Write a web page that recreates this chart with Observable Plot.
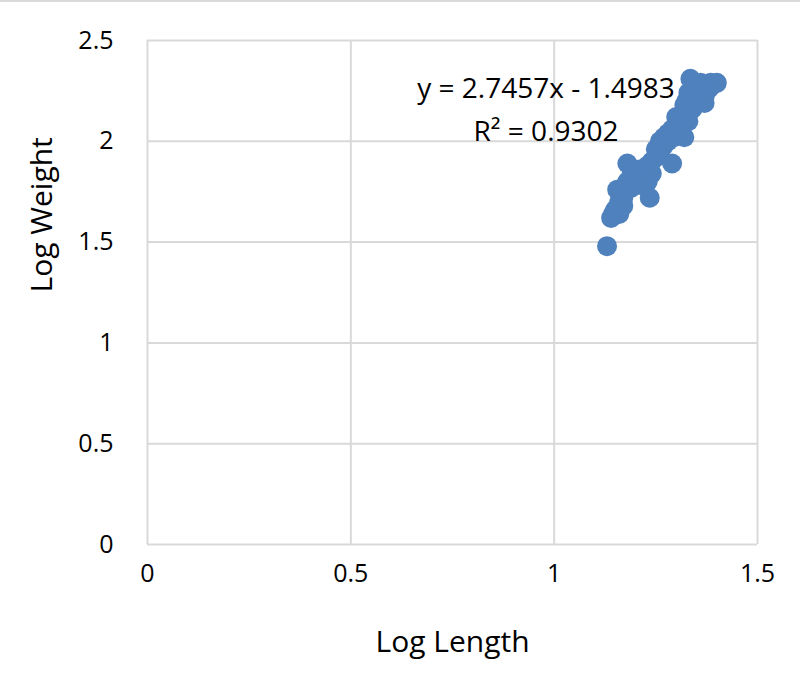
<!DOCTYPE html>
<html><head><meta charset="utf-8">
<script src="https://cdn.jsdelivr.net/npm/d3@7"></script>
<script src="https://cdn.jsdelivr.net/npm/@observablehq/plot@0.6"></script>
<style>
html,body{margin:0;padding:0;background:#fff;}
#chart{border-top:2px solid #d9d9d9;width:800px;}
svg{display:block;}
</style></head><body><div id="chart"></div>
<script>
const logLength = [1.13,1.14,1.145,1.15,1.155,1.16,1.16,1.155,1.165,1.17,1.175,1.18,1.18,1.19,1.19,1.20,1.21,1.21,1.22,1.23,1.235,1.23,1.24,1.24,1.25,1.25,1.26,1.26,1.27,1.27,1.28,1.28,1.29,1.29,1.295,1.30,1.30,1.31,1.31,1.32,1.32,1.325,1.33,1.33,1.335,1.34,1.34,1.35,1.35,1.36,1.36,1.37,1.37,1.38,1.385,1.39,1.40,1.32,1.37,1.17,1.22];
const logWeight = [1.48,1.62,1.64,1.66,1.67,1.64,1.70,1.76,1.75,1.72,1.78,1.89,1.80,1.77,1.83,1.80,1.82,1.86,1.85,1.80,1.72,1.88,1.90,1.84,1.92,1.96,1.94,2.00,1.98,2.02,2.00,2.04,2.06,1.89,2.02,2.08,2.12,2.10,2.04,2.14,2.18,2.20,2.10,2.24,2.31,2.16,2.22,2.26,2.20,2.24,2.29,2.28,2.22,2.26,2.29,2.28,2.29,2.02,2.19,1.68,1.78];
const xTicks = [0,0.5,1,1.5];
const yTicks = [0,0.5,1,1.5,2,2.5];
const trendLabels = ["y = 2.7457x - 1.4983","R² = 0.9302"];
const trendLabelX = [0.98,0.98];
const trendLabelY = [2.261,2.047];

const pts = logLength.map((x,i)=>({x, y: logWeight[i]}));
const labels = trendLabels.map((t,i)=>({t, x: trendLabelX[i], y: trendLabelY[i]}));
const font = "'Open Sans', sans-serif";

const chart = Plot.plot({
  width: 800, height: 676,
  marginLeft: 147, marginRight: 43, marginTop: 38, marginBottom: 134,
  style: {fontFamily: font, fontSize: "25px", color: "#000", background: "#fff"},
  x: {domain:[0,1.5], ticks: xTicks, label: null, tickFormat: d=>String(d)},
  y: {domain:[0,2.5], ticks: yTicks, label: null, tickFormat: d=>String(d)},
  marks: [
    Plot.gridX(xTicks, {stroke:"#d9d9d9", strokeOpacity:1, strokeWidth:2}),
    Plot.gridY(yTicks, {stroke:"#d9d9d9", strokeOpacity:1, strokeWidth:2}),
    Plot.axisX(xTicks, {tickSize:0, tickPadding:20, fontSize:25, fill:"#000", tickFormat:d=>String(d)}),
    Plot.axisY(yTicks, {tickSize:0, tickPadding:34, fontSize:25, fill:"#000", tickFormat:d=>String(d)}),
    Plot.dot(pts, {x:"x", y:"y", r:10, fill:"#4f81bd", stroke:"none"}),
    Plot.text(labels, {x:"x", y:"y", text:"t", fontSize:28, fill:"#000", textAnchor:"middle", lineAnchor:"middle"}),
    Plot.text(["Log Length"], {frameAnchor:"bottom", dy:98, fontSize:30, fill:"#000", lineAnchor:"middle"}),
    Plot.text(["Log Weight"], {frameAnchor:"left", dx:-105, rotate:-90, fontSize:30, fill:"#000"})
  ]
});
document.getElementById("chart").appendChild(chart);
</script></body></html>
